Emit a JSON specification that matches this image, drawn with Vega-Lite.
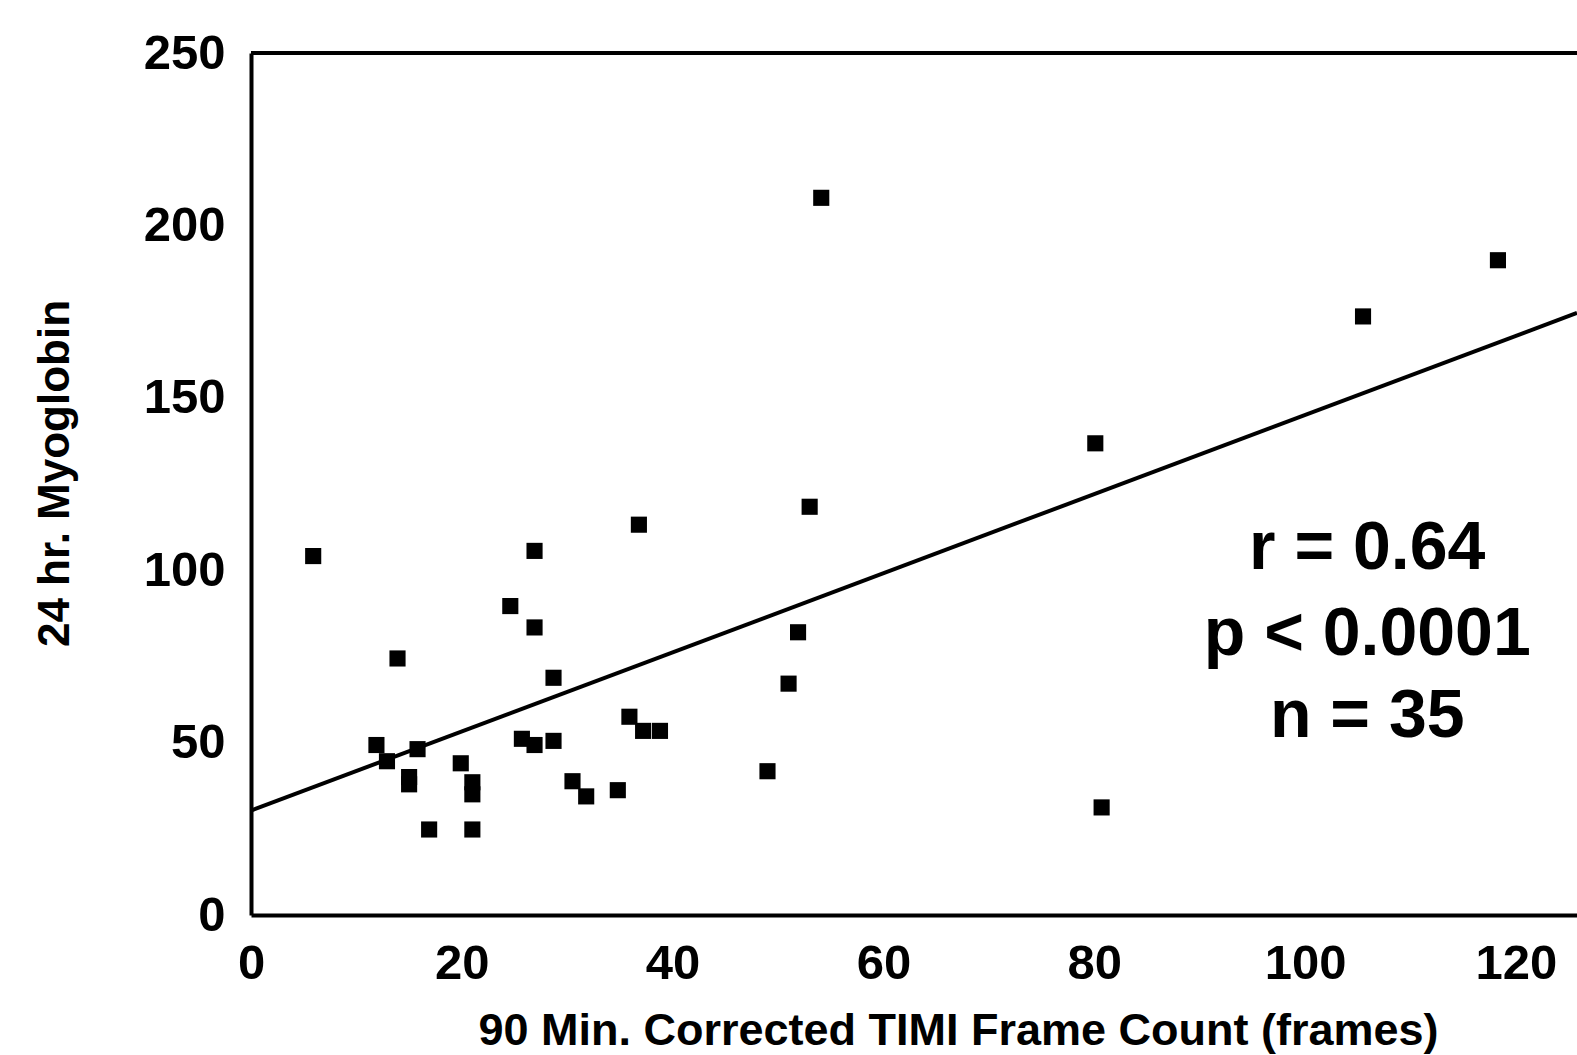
{
  "$schema": "https://vega.github.io/schema/vega-lite/v6.json",
  "autosize": "none",
  "width": 1326,
  "height": 862,
  "padding": {"left": 251, "top": 53, "right": 0, "bottom": 140},
  "background": "white",
  "config": {
    "view": {"stroke": null},
    "font": "Liberation Sans",
    "axis": {
      "domainColor": "black",
      "domainWidth": 4,
      "ticks": false,
      "grid": false,
      "labelFont": "Liberation Sans",
      "labelFontWeight": "bold",
      "labelFontSize": 49,
      "labelColor": "black",
      "labelFlush": false,
      "titleFont": "Liberation Sans",
      "titleFontWeight": "bold",
      "titleColor": "black"
    }
  },
  "datasets": {
    "points": [
      {"frames": 5.9, "myoglobin": 104.1},
      {"frames": 54.1, "myoglobin": 208.0},
      {"frames": 118.3, "myoglobin": 189.9},
      {"frames": 105.5, "myoglobin": 173.6},
      {"frames": 80.1, "myoglobin": 136.8},
      {"frames": 53.0, "myoglobin": 118.4},
      {"frames": 36.8, "myoglobin": 113.2},
      {"frames": 26.9, "myoglobin": 105.6},
      {"frames": 24.6, "myoglobin": 89.6},
      {"frames": 26.9, "myoglobin": 83.4},
      {"frames": 13.9, "myoglobin": 74.4},
      {"frames": 51.9, "myoglobin": 82.0},
      {"frames": 28.7, "myoglobin": 68.8},
      {"frames": 51.0, "myoglobin": 67.1},
      {"frames": 35.9, "myoglobin": 57.5},
      {"frames": 37.2, "myoglobin": 53.4},
      {"frames": 38.8, "myoglobin": 53.4},
      {"frames": 25.7, "myoglobin": 51.1},
      {"frames": 26.9, "myoglobin": 49.3},
      {"frames": 28.7, "myoglobin": 50.5},
      {"frames": 11.9, "myoglobin": 49.3},
      {"frames": 12.9, "myoglobin": 44.6},
      {"frames": 15.8, "myoglobin": 48.1},
      {"frames": 15.0, "myoglobin": 40.0},
      {"frames": 15.0, "myoglobin": 37.9},
      {"frames": 19.9, "myoglobin": 44.0},
      {"frames": 21.0, "myoglobin": 38.5},
      {"frames": 21.0, "myoglobin": 35.0},
      {"frames": 16.9, "myoglobin": 24.8},
      {"frames": 21.0, "myoglobin": 24.8},
      {"frames": 30.5, "myoglobin": 38.8},
      {"frames": 31.8, "myoglobin": 34.4},
      {"frames": 34.8, "myoglobin": 36.2},
      {"frames": 49.0, "myoglobin": 41.7},
      {"frames": 80.7, "myoglobin": 31.2}
    ],
    "fit": [
      {"frames": 0, "myoglobin": 30.3},
      {"frames": 125.8, "myoglobin": 174.6}
    ],
    "stats": [
      {"label": "r = 0.64", "frames": 105.9, "myoglobin": 100.3},
      {"label": "p < 0.0001", "frames": 105.9, "myoglobin": 75.3},
      {"label": "n = 35", "frames": 105.9, "myoglobin": 51.6}
    ],
    "frame": [{"myoglobin": 250}]
  },
  "layer": [
    {
      "data": {"name": "points"},
      "mark": {"type": "point", "shape": "square", "filled": true, "color": "black", "opacity": 1, "size": 260},
      "encoding": {
        "x": {
          "field": "frames", "type": "quantitative",
          "scale": {"domain": [0, 125.8], "nice": false, "zero": false},
          "axis": {
            "orient": "bottom",
            "values": [0, 20, 40, 60, 80, 100, 120],
            "labelPadding": 24,
            "title": "90 Min. Corrected TIMI Frame Count (frames)",
            "titleFontSize": 45,
            "titlePadding": 20,
            "titleX": 707,
            "titleAlign": "center"
          }
        },
        "y": {
          "field": "myoglobin", "type": "quantitative",
          "scale": {"domain": [0, 250], "nice": false},
          "axis": {
            "values": [0, 50, 100, 150, 200, 250],
            "labelPadding": 26,
            "title": "24 hr. Myoglobin",
            "titleFontSize": 44,
            "titlePadding": 66,
            "titleY": 420,
            "titleAlign": "center"
          }
        }
      }
    },
    {
      "data": {"name": "fit"},
      "mark": {"type": "line", "color": "black", "strokeWidth": 4},
      "encoding": {
        "x": {"field": "frames", "type": "quantitative"},
        "y": {"field": "myoglobin", "type": "quantitative"}
      }
    },
    {
      "data": {"name": "frame"},
      "mark": {"type": "rule", "color": "black", "strokeWidth": 4},
      "encoding": {
        "y": {"field": "myoglobin", "type": "quantitative"}
      }
    },
    {
      "data": {"name": "stats"},
      "mark": {"type": "text", "align": "center", "baseline": "alphabetic", "fontSize": 68, "fontWeight": "bold", "font": "Liberation Sans", "color": "black"},
      "encoding": {
        "x": {"field": "frames", "type": "quantitative"},
        "y": {"field": "myoglobin", "type": "quantitative"},
        "text": {"field": "label"}
      }
    }
  ]
}
